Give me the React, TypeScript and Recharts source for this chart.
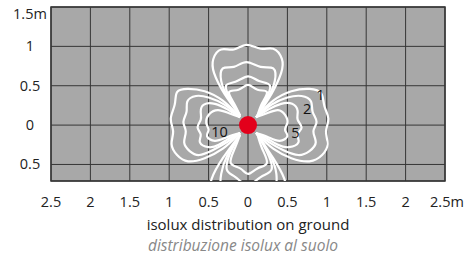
import React from 'react';
import {
  ComposedChart, Line, Scatter, XAxis, YAxis, CartesianGrid, ReferenceArea,
} from 'recharts';

type Pt = [number, number];

const X_TICKS = [-2.5, -2, -1.5, -1, -0.5, 0, 0.5, 1, 1.5, 2, 2.5];
const Y_TICKS = [-0.5, 0, 0.5, 1, 1.5];
const X_DOMAIN = [-2.5, 2.5];
const Y_DOMAIN = [-0.71, 1.5];

// isolux curves, one petal per direction, levels 1 / 2 / 5 / 10 lux
const RIGHT_1: Pt[] = [[0.1, 0.1], [0.32, 0.31], [0.55, 0.43], [0.78, 0.46], [0.93, 0.4], [0.97, 0.24], [1.02, 0.08], [0.99, -0.08], [1.01, -0.24], [0.94, -0.38], [0.78, -0.46], [0.55, -0.42], [0.32, -0.3], [0.1, -0.1]];
const RIGHT_2: Pt[] = [[0.1, 0.1], [0.3, 0.26], [0.5, 0.35], [0.68, 0.37], [0.8, 0.3], [0.82, 0.17], [0.87, 0.04], [0.83, -0.08], [0.86, -0.22], [0.78, -0.33], [0.64, -0.38], [0.45, -0.32], [0.27, -0.22], [0.1, -0.1]];
const RIGHT_5: Pt[] = [[0.1, 0.1], [0.26, 0.2], [0.42, 0.27], [0.56, 0.27], [0.63, 0.18], [0.63, 0.07], [0.68, -0.03], [0.63, -0.12], [0.64, -0.22], [0.52, -0.28], [0.38, -0.25], [0.24, -0.17], [0.1, -0.1]];
const RIGHT_10: Pt[] = [[0.1, 0.1], [0.24, 0.15], [0.38, 0.19], [0.47, 0.13], [0.5, 0.03], [0.47, -0.06], [0.5, -0.14], [0.4, -0.2], [0.25, -0.15], [0.1, -0.1]];

const LEFT_1: Pt[] = [[-0.1, 0.1], [-0.32, 0.31], [-0.55, 0.43], [-0.76, 0.46], [-0.9, 0.42], [-0.93, 0.26], [-0.98, 0.08], [-0.95, -0.08], [-0.97, -0.24], [-0.9, -0.38], [-0.76, -0.46], [-0.55, -0.42], [-0.32, -0.3], [-0.1, -0.1]];
const LEFT_2: Pt[] = [[-0.1, 0.1], [-0.3, 0.26], [-0.5, 0.35], [-0.66, 0.37], [-0.77, 0.3], [-0.78, 0.17], [-0.82, 0.04], [-0.79, -0.08], [-0.81, -0.22], [-0.74, -0.33], [-0.62, -0.38], [-0.45, -0.32], [-0.27, -0.22], [-0.1, -0.1]];
const LEFT_5: Pt[] = [[-0.1, 0.1], [-0.26, 0.2], [-0.42, 0.27], [-0.56, 0.26], [-0.6, 0.17], [-0.6, 0.07], [-0.64, -0.03], [-0.6, -0.12], [-0.61, -0.22], [-0.5, -0.28], [-0.37, -0.25], [-0.24, -0.17], [-0.1, -0.1]];
const LEFT_10: Pt[] = [[-0.1, 0.1], [-0.24, 0.15], [-0.38, 0.19], [-0.49, 0.14], [-0.53, 0.03], [-0.5, -0.06], [-0.52, -0.14], [-0.42, -0.2], [-0.26, -0.15], [-0.1, -0.1]];

const TOP_1: Pt[] = [[-0.1, 0.12], [-0.3, 0.4], [-0.43, 0.66], [-0.44, 0.84], [-0.34, 0.96], [-0.18, 0.96], [-0.02, 1.02], [0.16, 0.97], [0.32, 0.97], [0.43, 0.84], [0.42, 0.66], [0.3, 0.4], [0.12, 0.12]];
const TOP_2: Pt[] = [[-0.1, 0.12], [-0.26, 0.36], [-0.34, 0.56], [-0.32, 0.72], [-0.18, 0.74], [-0.02, 0.8], [0.16, 0.74], [0.32, 0.72], [0.34, 0.56], [0.26, 0.36], [0.12, 0.12]];
const TOP_5: Pt[] = [[-0.1, 0.12], [-0.22, 0.32], [-0.28, 0.5], [-0.16, 0.55], [0, 0.62], [0.14, 0.56], [0.28, 0.5], [0.22, 0.32], [0.12, 0.12]];
const TOP_10: Pt[] = [[-0.1, 0.12], [-0.18, 0.28], [-0.24, 0.42], [-0.12, 0.45], [0, 0.51], [0.12, 0.45], [0.24, 0.42], [0.18, 0.28], [0.12, 0.12]];

const BOTTOM_1: Pt[] = [[-0.1, -0.12], [-0.32, -0.42], [-0.46, -0.68], [-0.47, -0.86], [-0.34, -0.98], [0, -1.05], [0.34, -0.98], [0.47, -0.86], [0.46, -0.68], [0.32, -0.42], [0.12, -0.12]];
const BOTTOM_2: Pt[] = [[-0.1, -0.12], [-0.26, -0.38], [-0.34, -0.62], [-0.33, -0.8], [-0.2, -0.84], [0, -0.92], [0.2, -0.84], [0.33, -0.8], [0.36, -0.62], [0.28, -0.38], [0.12, -0.12]];
const BOTTOM_5: Pt[] = [[-0.1, -0.12], [-0.22, -0.34], [-0.27, -0.56], [-0.16, -0.66], [0, -0.76], [0.16, -0.66], [0.3, -0.56], [0.24, -0.34], [0.12, -0.12]];
const BOTTOM_10: Pt[] = [[-0.1, -0.12], [-0.17, -0.3], [-0.22, -0.48], [-0.1, -0.55], [0, -0.62], [0.12, -0.55], [0.24, -0.48], [0.18, -0.3], [0.12, -0.12]];

const CURVES: Pt[][] = [
  RIGHT_1, RIGHT_2, RIGHT_5, RIGHT_10,
  LEFT_1, LEFT_2, LEFT_5, LEFT_10,
  TOP_1, TOP_2, TOP_5, TOP_10,
  BOTTOM_1, BOTTOM_2, BOTTOM_5, BOTTOM_10,
];

const LEVEL_LABELS = [
  { x: 0.92, y: 0.38, t: '1' },
  { x: 0.75, y: 0.2, t: '2' },
  { x: 0.6, y: -0.1, t: '5' },
  { x: -0.36, y: -0.09, t: '10' },
];

const LAMP = [{ x: 0, y: 0 }];

const FONT = '"Open Sans", sans-serif';

const XTick = (props: any) => {
  const { x, y, payload } = props;
  const v = payload.value;
  const txt = v === 2.5 ? '2.5m' : String(Math.abs(v));
  const dx = v === 2.5 ? 2 : 0;
  return (
    <text x={x + dx} y={y + 24} textAnchor="middle" fontSize={14.5} fill="#222" fontFamily={FONT}>{txt}</text>
  );
};

const YTick = (props: any) => {
  const { x, y, payload } = props;
  const v = payload.value;
  const txt = v === 1.5 ? '1.5m' : String(Math.abs(v));
  const dy = v === 1.5 ? 12 : 5;
  return (
    <text x={x - 19} y={y + dy} textAnchor="middle" fontSize={14.5} fill="#222" fontFamily={FONT}>{txt}</text>
  );
};

const App: React.FC = () => {
  return (
    <div style={{ position: 'absolute', left: 0, top: 0, width: 466, height: 257, background: '#fff' }}>
      <ComposedChart width={466} height={257} margin={{ top: 7, right: 21, left: 10, bottom: 46 }}>
        <CartesianGrid stroke="#363636" fill="#a8a8a8" fillOpacity={1} />
        <XAxis
          type="number" dataKey="x" domain={X_DOMAIN} ticks={X_TICKS} allowDataOverflow
          axisLine={false} tickLine={false} tickSize={0} tick={<XTick />} height={30} interval={0}
        />
        <YAxis
          type="number" dataKey="y" domain={Y_DOMAIN} ticks={Y_TICKS} allowDataOverflow
          axisLine={false} tickLine={false} tickSize={0} tick={<YTick />} width={41} interval={0}
        />
        <ReferenceArea x1={-2.5} x2={2.5} y1={-0.71} y2={1.5} fill="none" stroke="#363636" strokeWidth={1.5} />
        {CURVES.map((c, i) => (
          <Line
            key={i}
            data={c.map(([x, y]) => ({ x, y }))}
            dataKey="y"
            type="natural"
            stroke="#ffffff"
            strokeWidth={2.2}
            dot={false}
            activeDot={false}
            isAnimationActive={false}
          />
        ))}
        <Scatter
          data={LAMP}
          isAnimationActive={false}
          shape={(p: any) => <circle cx={p.cx} cy={p.cy} r={9} fill="#e3001b" />}
        />
        <Scatter
          data={LEVEL_LABELS}
          isAnimationActive={false}
          shape={(p: any) => (
            <text x={p.cx} y={p.cy + 5} textAnchor="middle" fontSize={14.5} fill="#111" fontFamily={FONT}>
              {p.payload.t}
            </text>
          )}
        />
      </ComposedChart>
      <div style={{ position: 'absolute', left: 0, width: 496, top: 214, textAlign: 'center', fontFamily: FONT, fontSize: 15, color: '#222' }}>
        isolux distribution on ground
      </div>
      <div style={{ position: 'absolute', left: 0, width: 486, top: 234, textAlign: 'center', fontFamily: FONT, fontSize: 15.5, fontStyle: 'italic', color: '#888' }}>
        distribuzione isolux al suolo
      </div>
    </div>
  );
};

export default App;
